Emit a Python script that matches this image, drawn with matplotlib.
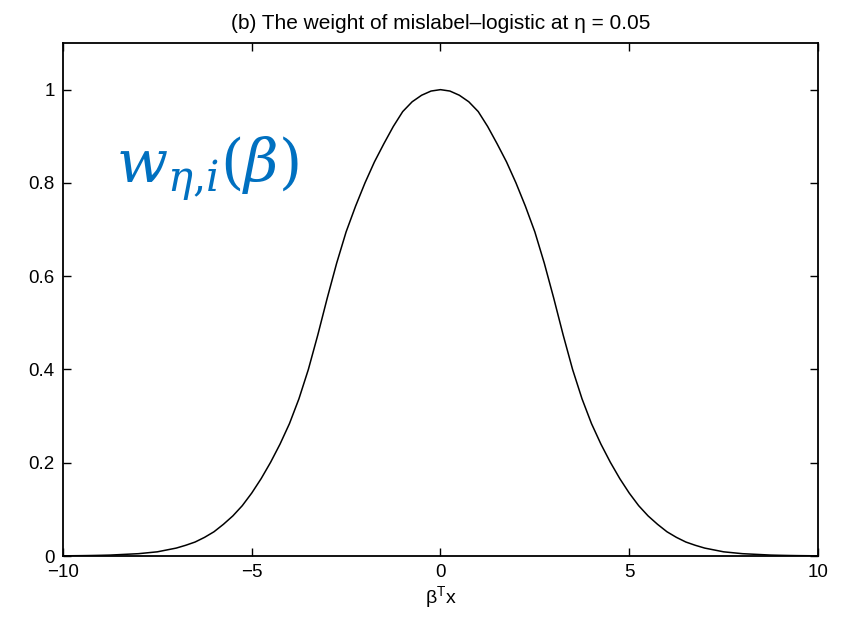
"""Weight of mislabel-logistic at eta = 0.05."""
import matplotlib
matplotlib.use("Agg")
import matplotlib.pyplot as plt

# values (step 0.25)
beta_x = [-10, -9.75, -9.5, -9.25, -9, -8.75, -8.5, -8.25, -8, -7.75, -7.5, -7.25,
          -7, -6.75, -6.5, -6.25, -6, -5.75, -5.5, -5.25, -5, -4.75, -4.5, -4.25,
          -4, -3.75, -3.5, -3.25, -3, -2.75, -2.5, -2.25, -2, -1.75, -1.5, -1.25,
          -1, -0.75, -0.5, -0.25, 0, 0.25, 0.5, 0.75, 1, 1.25, 1.5, 1.75, 2, 2.25,
          2.5, 2.75, 3, 3.25, 3.5, 3.75, 4, 4.25, 4.5, 4.75, 5, 5.25, 5.5, 5.75,
          6, 6.25, 6.5, 6.75, 7, 7.25, 7.5, 7.75, 8, 8.25, 8.5, 8.75, 9, 9.25,
          9.5, 9.75, 10]
weight = [0.0004, 0.0006, 0.0008, 0.0011, 0.0015, 0.002, 0.003, 0.004, 0.005,
          0.007, 0.009, 0.013, 0.017, 0.023, 0.030, 0.040, 0.052, 0.068, 0.086,
          0.108, 0.135, 0.166, 0.201, 0.240, 0.284, 0.337, 0.400, 0.474, 0.553,
          0.628, 0.695, 0.750, 0.800, 0.845, 0.884, 0.921, 0.953, 0.974, 0.988,
          0.997, 1.000, 0.997, 0.988, 0.974, 0.953, 0.921, 0.884, 0.845, 0.800,
          0.750, 0.695, 0.628, 0.553, 0.474, 0.400, 0.337, 0.284, 0.240, 0.201,
          0.166, 0.135, 0.108, 0.086, 0.068, 0.052, 0.040, 0.030, 0.023, 0.017,
          0.013, 0.009, 0.007, 0.005, 0.004, 0.003, 0.002, 0.0015, 0.0011,
          0.0008, 0.0006, 0.0004]
x_ticks = [-10, -5, 0, 5, 10]
y_ticks = [0, 0.2, 0.4, 0.6, 0.8, 1]
y_tick_labels = ["0", "0.2", "0.4", "0.6", "0.8", "1"]

plt.rcParams['font.family'] = ['Liberation Sans', 'DejaVu Sans']
plt.rcParams['mathtext.fontset'] = 'stix'

fig = plt.figure(figsize=(8.41, 6.18), dpi=100)
ax = fig.add_axes([0.0749, 0.1003, 0.8977, 0.8301])

ax.plot(beta_x, weight, color='black', linewidth=1.1)

ax.set_xlim(-10, 10)
ax.set_ylim(0, 1.1)
ax.set_xticks(x_ticks)
ax.set_xticklabels([f"{t:d}".replace('-', '\u2212') for t in x_ticks])
ax.set_yticks(y_ticks)
ax.set_yticklabels(y_tick_labels)
ax.tick_params(direction='in', top=True, right=True, length=6, width=1,
               labelsize=13.5, pad=6)
for spine in ax.spines.values():
    spine.set_linewidth(1.3)

ax.set_title("(b) The weight of mislabel\u2013logistic at \u03b7 = 0.05",
             fontsize=15, pad=10)
ax.set_xlabel(r"$\mathregular{\beta^{T}x}$", fontsize=14, labelpad=2)

# blue annotation
ax.text(0.07, 0.755, r"$w_{\eta{,}i}(\beta)$", transform=ax.transAxes,
        color='#0070C0', fontsize=43, ha='left', va='center',
        math_fontfamily='dejavuserif')

fig.savefig("out.png", dpi=100)
